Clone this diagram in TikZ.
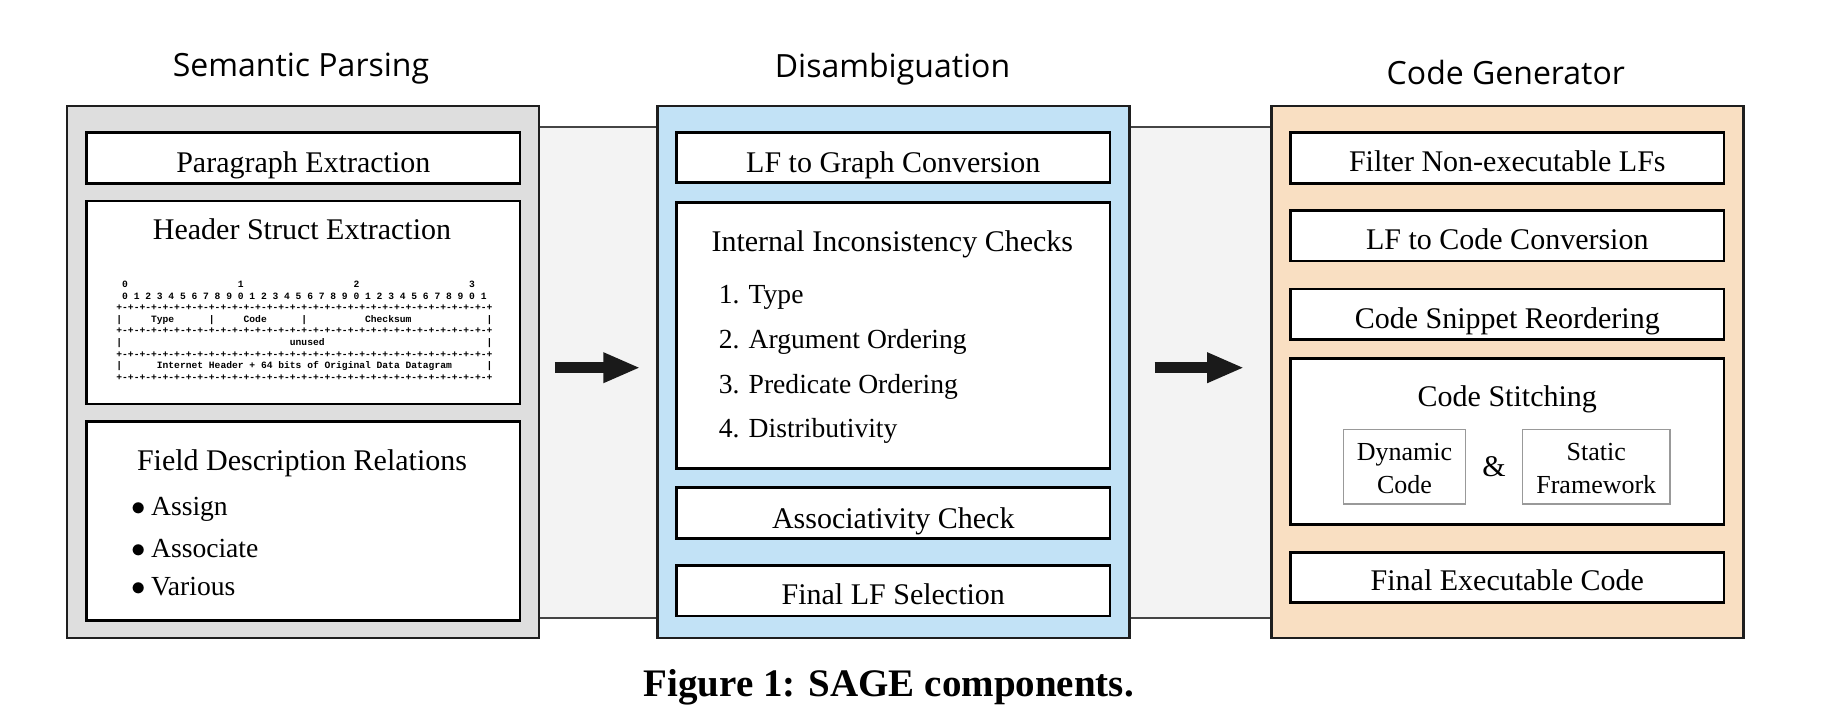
\documentclass[tikz,border=0pt]{standalone}
\usepackage{fontspec}
\setmainfont{Liberation Serif}
\newfontfamily\titlefont{Open Sans}
\newfontfamily\hdrfont{Liberation Mono}
\usetikzlibrary{arrows.meta,calc}
\definecolor{leftfill}{HTML}{DEDEDE}
\definecolor{midfill}{HTML}{C2E2F6}
\definecolor{rightfill}{HTML}{F9DFC2}
\definecolor{bandfill}{HTML}{F3F3F3}
\definecolor{bandline}{HTML}{444444}
\definecolor{subline}{HTML}{999999}
\definecolor{arrowc}{HTML}{1A1A1A}
\definecolor{edgec}{HTML}{1E1E1E}
\newcommand\hdgap[1]{\hspace*{\dimexpr2.892pt*#1\relax}}
\newcommand\hdrule{+-+-+-+-+-+-+-+-+-+-+-+-+-+-+-+-+-+-+-+-+-+-+-+-+-+-+-+-+-+-+-+-+}
\newcommand\itembul{\makebox[10pt][l]{$\bullet$}}
\begin{document}
\begin{tikzpicture}[x=0.5pt,y=-0.5pt,
  outerbox/.style={draw=edgec,line width=1.35pt,minimum width=236pt,minimum height=266pt,inner sep=0pt},
  inbox/.style={draw=black,line width=1.35pt,fill=white,minimum width=216.65pt,inner sep=0pt},
  subbox/.style={draw=subline,line width=0.6pt,fill=white,inner sep=0pt,minimum height=37.35pt},
  txt/.style={inner sep=0pt,font=\fontsize{15pt}{18pt}\selectfont},
  itemtxt/.style={inner sep=0pt,anchor=base west,font=\fontsize{13.8pt}{16pt}\selectfont},
  subtxt/.style={inner sep=0pt,align=center,font=\fontsize{13pt}{16.5pt}\selectfont},
  coltitle/.style={inner sep=0pt,anchor=base,font=\titlefont\fontsize{16pt}{19pt}\selectfont},
  hdr/.style={inner sep=0pt,anchor=base west,font=\hdrfont\bfseries\fontsize{4.82pt}{5.8pt}\selectfont},
  bigarrow/.style={draw=arrowc,line width=5.5pt,-{Triangle[length=18.6pt,width=14pt]}}]
\useasboundingbox (0,0) rectangle (1822,728);

% background band
\fill[bandfill] (539,126.7) rectangle (1271.7,618);
\draw[bandline,line width=1pt] (539,126.7) -- (1271.7,126.7);
\draw[bandline,line width=1pt] (539,618) -- (1271.7,618);

% column titles
\node[coltitle] (t1) at (301,76.7) {Semantic Parsing};
\node[coltitle] (t2) at (892.5,77.3) {Disambiguation};
\node[coltitle] (t3) at (1505.8,84) {Code Generator};

% outer boxes
\node[outerbox,fill=leftfill] (L) at (303,372) {};
\node[outerbox,fill=midfill] (M) at (893.3,372) {};
\node[outerbox,fill=rightfill] (R) at (1507.3,372) {};

% ---------- left column ----------
\node[inbox,minimum height=25.3pt] (p1) at (303.3,158) {};
\node[txt,anchor=base] (p1t) at (303.3,172.5) {Paragraph Extraction};

\node[inbox,minimum height=101.5pt] (hs) at (303.3,302.5) {};
\node[txt,anchor=base] (hst) at (302,239.3) {Header Struct Extraction};
\node[hdr] (h1) at (116,287.5) {\hdgap{1}0\hdgap{19}1\hdgap{19}2\hdgap{19}3};
\node[hdr] (h2) at (116,299.1) {\hdgap{1}0 1 2 3 4 5 6 7 8 9 0 1 2 3 4 5 6 7 8 9 0 1 2 3 4 5 6 7 8 9 0 1};
\node[hdr] (h3) at (116,310.7) {\hdrule};
\node[hdr] (h4) at (116,322.3) {|\hdgap{5}Type\hdgap{6}|\hdgap{5}Code\hdgap{6}|\hdgap{10}Checksum\hdgap{13}|};
\node[hdr] (h5) at (116,333.9) {\hdrule};
\node[hdr] (h6) at (116,345.5) {|\hdgap{29}unused\hdgap{28}|};
\node[hdr] (h7) at (116,357.1) {\hdrule};
\node[hdr] (h8) at (116,368.7) {|\hdgap{6}Internet Header + 64 bits of Original Data Datagram\hdgap{6}|};
\node[hdr] (h9) at (116,380.3) {\hdrule};

\node[inbox,minimum height=99.5pt] (fd) at (303.3,521.2) {};
\node[txt,anchor=base] (fdt) at (302,470.7) {Field Description Relations};
\node[itemtxt] (fd1) at (130.7,515) {\itembul Assign};
\node[itemtxt] (fd2) at (130.7,557.3) {\itembul Associate};
\node[itemtxt] (fd3) at (130.7,595) {\itembul Various};

% ---------- middle column ----------
\node[inbox,minimum height=25pt] (m1) at (893.3,157.7) {};
\node[txt,anchor=base] (m1t) at (893.3,172) {LF to Graph Conversion};

\node[inbox,minimum height=132.8pt] (m2) at (893.3,335.5) {};
\node[txt,anchor=base] (m2t) at (892.3,251.7) {Internal Inconsistency Checks};
\node[itemtxt] (m2a) at (718.4,303) {1. Type};
\node[itemtxt] (m2b) at (718.4,348) {2. Argument Ordering};
\node[itemtxt] (m2c) at (718.4,393) {3. Predicate Ordering};
\node[itemtxt] (m2d) at (718.4,437) {4. Distributivity};

\node[inbox,minimum height=25.3pt] (m3) at (893.3,513) {};
\node[txt,anchor=base] (m3t) at (893.3,528) {Associativity Check};

\node[inbox,minimum height=25.15pt] (m4) at (893.3,590.8) {};
\node[txt,anchor=base] (m4t) at (893.3,604) {Final LF Selection};

% ---------- right column ----------
\node[inbox,minimum height=25.3pt] (r1) at (1507.3,158) {};
\node[txt,anchor=base] (r1t) at (1507.3,171.5) {Filter Non-executable LFs};

\node[inbox,minimum height=25.15pt] (r2) at (1507.3,235.8) {};
\node[txt,anchor=base] (r2t) at (1507.3,249) {LF to Code Conversion};

\node[inbox,minimum height=25.25pt] (r3) at (1507.3,314.2) {};
\node[txt,anchor=base] (r3t) at (1507.3,328) {Code Snippet Reordering};

\node[inbox,minimum height=83pt] (r4) at (1507.3,441.3) {};
\node[txt,anchor=base] (r4t) at (1507.3,406.7) {Code Stitching};
\node[subbox,minimum width=61.2pt] (dyn) at (1404.5,466.7) {};
\node[subtxt] (dynt) at (1404.5,468.3) {Dynamic\\Code};
\node[txt,anchor=base] (amp) at (1494,476.7) {\&};
\node[subbox,minimum width=73.65pt] (stat) at (1596.3,466.7) {};
\node[subtxt] (statt) at (1596.3,468.3) {Static\\Framework};

\node[inbox,minimum height=25.2pt] (r5) at (1507.3,577.5) {};
\node[txt,anchor=base] (r5t) at (1507.3,590.5) {Final Executable Code};

% ---------- arrows between stages ----------
\coordinate (a1s) at ($(L.east)+(14.6,-4.3)$);
\coordinate (a1e) at ($(M.west)+(-15.5,-4.3)$);
\coordinate (a2s) at ($(M.east)+(24,-4.3)$);
\coordinate (a2e) at ($(R.west)+(-25.7,-4.3)$);
\draw[bigarrow] (a1s) -- (a1e);
\draw[bigarrow] (a2s) -- (a2e);

% caption
\node[inner sep=0pt,anchor=base,font=\bfseries\fontsize{19.5pt}{22pt}\selectfont] (cap) at (888.8,696) {Figure 1: SAGE components.};
\end{tikzpicture}
\end{document}
